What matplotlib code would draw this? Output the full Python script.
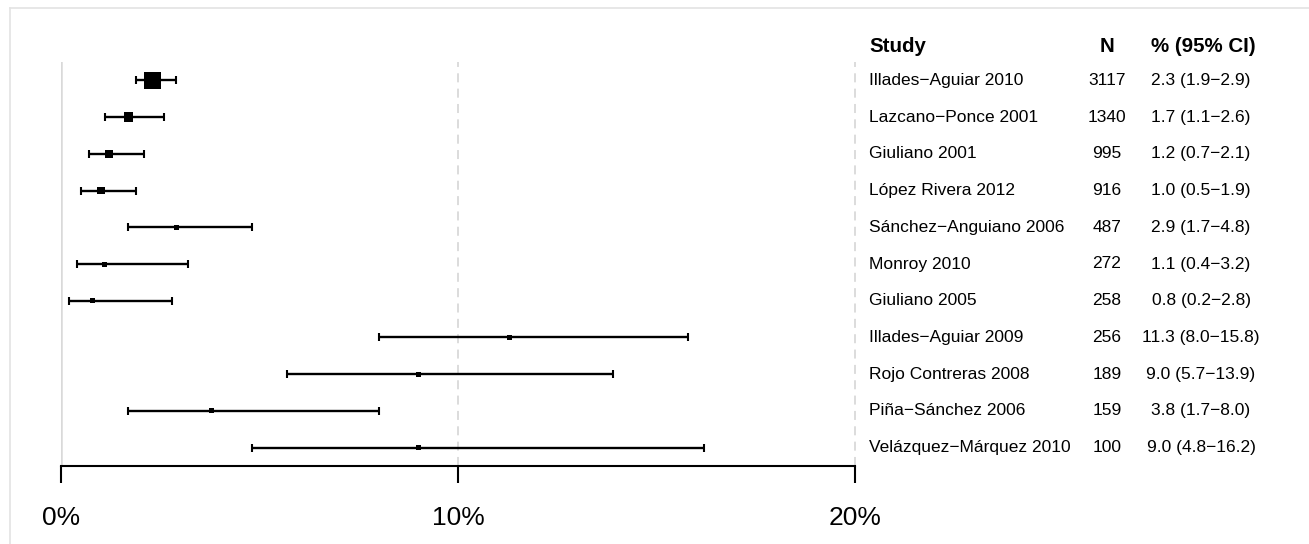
import matplotlib.pyplot as plt
import matplotlib.transforms as mtransforms
from matplotlib.lines import Line2D
import numpy as np

plt.rcParams['font.family'] = ['Liberation Sans', 'DejaVu Sans']

# Study data
studies = ['Illades\u2212Aguiar 2010', 'Lazcano\u2212Ponce 2001', 'Giuliano 2001',
           'López Rivera 2012', 'Sánchez\u2212Anguiano 2006', 'Monroy 2010',
           'Giuliano 2005', 'Illades\u2212Aguiar 2009', 'Rojo Contreras 2008',
           'Piña\u2212Sánchez 2006', 'Velázquez\u2212Márquez 2010']
n_women = [3117, 1340, 995, 916, 487, 272, 258, 256, 189, 159, 100]
estimate = [2.3, 1.7, 1.2, 1.0, 2.9, 1.1, 0.8, 11.3, 9.0, 3.8, 9.0]
ci_low = [1.9, 1.1, 0.7, 0.5, 1.7, 0.4, 0.2, 8.0, 5.7, 1.7, 4.8]
ci_high = [2.9, 2.6, 2.1, 1.9, 4.8, 3.2, 2.8, 15.8, 13.9, 8.0, 16.2]
x_ticks = [0, 10, 20]

W, H = 1309, 544
fig = plt.figure(figsize=(W / 100, H / 100), dpi=100)

# plot region in pixels: x 61..855, y 62..466
ax = fig.add_axes([61 / W, 1 - 466 / H, 794 / W, 404 / H])
ax.set_xlim(0, 20)
ax.set_ylim(len(studies) - 0.5, -0.5)

rows = np.arange(len(studies))
est = np.array(estimate)
lo = np.array(ci_low)
hi = np.array(ci_high)

# reference lines
ax.axvline(0, color='#d9d9d9', lw=1.8, zorder=1)
for xv in [10, 20]:
    ax.axvline(xv, color='#d9d9d9', lw=1.3, ls=(0, (5, 3.5)), zorder=1,
               clip_on=False)

ax.errorbar(est, rows, xerr=[est - lo, hi - est], fmt='none', ecolor='black',
            elinewidth=1.7, capsize=3.2, capthick=1.5, zorder=3)

# box size grows with study size
n = np.array(n_women, dtype=float)
side_px = np.maximum(5.0, 17.0 * (n / n.max()) ** 0.65)
ax.scatter(est, rows, marker='s', s=(side_px * 0.72) ** 2, color='black',
           linewidths=0, zorder=4)

for s in ['top', 'right', 'left']:
    ax.spines[s].set_visible(False)
ax.spines['bottom'].set_linewidth(1.5)
ax.set_yticks([])
ax.set_xticks(x_ticks)
ax.set_xticklabels([f'{t}%' for t in x_ticks], fontsize=19)
ax.tick_params(axis='x', length=12, width=1.5, pad=17)

# table to the right
tr = mtransforms.blended_transform_factory(fig.transFigure, ax.transData)
x_study, x_n, x_ci = 869 / W, 1107 / W, 1201 / W
fs = 12.5
fs_head = 14.8
y_head = -0.93
ax.text(x_study, y_head, 'Study', transform=tr, fontsize=fs_head,
        fontweight='bold', ha='left', va='center')
ax.text(x_n, y_head, 'N', transform=tr, fontsize=fs_head, fontweight='bold',
        ha='center', va='center')
ax.text(x_ci + 2 / W, y_head, '% (95% CI)', transform=tr, fontsize=fs_head,
        fontweight='bold', ha='center', va='center')
for i, name in enumerate(studies):
    ax.text(x_study, i, name, transform=tr, fontsize=fs, ha='left', va='center')
    ax.text(x_n, i, str(n_women[i]), transform=tr, fontsize=fs, ha='center',
            va='center')
    ci_txt = f'{estimate[i]:.1f} ({ci_low[i]:.1f}\u2212{ci_high[i]:.1f})'
    ax.text(x_ci, i, ci_txt, transform=tr, fontsize=fs, ha='center',
            va='center')

# light frame around the figure panel
fig.add_artist(Line2D([10 / W, 1], [1 - 8 / H, 1 - 8 / H],
                      transform=fig.transFigure, color='#e3e3e3', lw=1.2))
fig.add_artist(Line2D([10 / W, 10 / W], [0, 1 - 8 / H],
                      transform=fig.transFigure, color='#e3e3e3', lw=1.2))

fig.savefig('out.png', dpi=100)
